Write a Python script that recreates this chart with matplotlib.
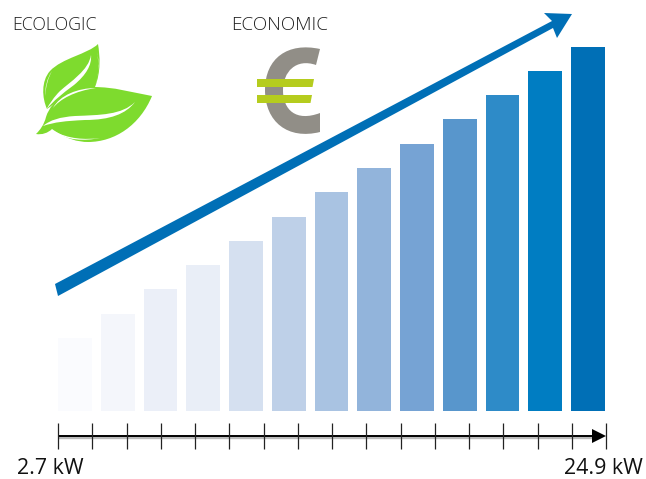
import numpy as np
import matplotlib
matplotlib.use('Agg')
import matplotlib.pyplot as plt
from matplotlib.path import Path
from matplotlib.patches import PathPatch, Polygon

# bar heights (pixels above the baseline)
heights = [73, 97, 122, 146, 170, 194, 219, 243, 267, 292, 316, 340, 364]
colors = ['#FAFBFE', '#F4F6FB', '#EBEFF8', '#E9EEF7', '#D5E0F0', '#BED0E8', '#A9C3E2',
          '#92B4DB', '#76A3D4', '#5896CC', '#2E8BC8', '#007DC2', '#006FB6']
top_labels = ['ECOLOGIC', 'ECONOMIC']
range_labels = ['2.7 kW', '24.9 kW']
n_ticks = 17

LEAF = '#7EDB2E'
BLUE = '#006FB6'
M, L, C = Path.MOVETO, Path.LINETO, Path.CURVE4

fig = plt.figure(figsize=(6.46, 4.79), dpi=100)

# bars
ax = fig.add_axes([0, 0, 1, 1])
ax.bar(range(len(heights)), heights, width=0.795, color=colors)
ax.set_xlim(-75 / 42.75, (646 - 75) / 42.75)
ax.set_ylim(-68, 411)
ax.axis('off')

# overlay in picture pixels for the icons and the arrows
ov = fig.add_axes([0, 0, 1, 1])
ov.set_xlim(0, 646)
ov.set_ylim(479, 0)
ov.axis('off')


def curve(points, color, z=3):
    # first point is a moveto, then groups of three bezier points
    codes = [M] + [C] * (len(points) - 1)
    ov.add_patch(PathPatch(Path(points, codes), fc=color, ec='none', zorder=z))


# upper leaf
curve([(98, 44), (88, 54), (62, 58), (50, 71), (41, 81), (42, 98), (47, 109),
       (62, 98), (80, 90), (95, 87), (101, 72), (100, 56), (98, 44)], LEAF)
# lower leaf
curve([(152, 96), (130, 92), (115, 87), (93, 87), (72, 88), (52, 98), (46, 117),
       (44, 125), (40, 130), (36, 134), (42, 135), (48, 133), (52, 129),
       (66, 139), (78, 142), (88, 142), (115, 142), (140, 125), (152, 96)], LEAF)
# white veins
curve([(91, 55), (89, 70), (70, 82), (60, 91), (54, 97), (50, 103), (46, 110),
       (54, 100), (62, 94), (74, 85), (86, 75), (92, 65), (91, 55)], 'white', 4)
curve([(135, 102), (122, 115), (100, 115), (75, 116), (60, 117), (50, 120), (43, 126),
       (55, 122), (65, 121), (85, 120), (110, 120), (126, 114), (135, 102)], 'white', 4)
curve([(96, 88), (78, 88), (60, 95), (53, 108), (60, 99), (75, 91), (96, 88)], 'white', 4)
curve([(54, 131), (68, 139), (85, 140), (100, 138), (85, 141), (66, 141), (54, 131)], 'white', 4)
curve([(52, 71), (47, 78), (45, 88), (45, 96), (46, 86), (48, 78), (52, 71)], 'white', 4)
curve([(97, 52), (100, 65), (98, 76), (95, 86), (99, 74), (99, 62), (97, 52)], 'white', 4)

# euro sign
curve([(320, 49), (288, 42), (265, 58), (265, 90), (265, 122), (288, 140), (320, 132),
       (320, 125), (320, 119), (320, 113), (296, 122), (283, 110), (283, 90),
       (283, 72), (296, 58), (316, 65), (317, 60), (319, 54), (320, 49)], '#918E87')
ov.add_patch(Polygon([(257, 79), (314, 79), (312.5, 87), (257, 87)], fc='#B5CC1E', ec='none', zorder=4))
ov.add_patch(Polygon([(257, 95), (312, 95), (310.5, 103), (257, 103)], fc='#B5CC1E', ec='none', zorder=4))

# big tapered arrow
ov.add_patch(Polygon([(55, 284), (552, 21), (544, 13), (572, 14), (557, 38), (553, 28), (58, 296)],
                     fc=BLUE, ec='none', zorder=5))

# power axis
xt = np.linspace(58, 606, n_ticks)
ov.plot([58, 596], [436.5, 436.5], color='#BBBBBB', lw=2.4, zorder=2, solid_capstyle='butt')
ov.plot([58, 596], [436, 436], color='black', lw=1.4, zorder=3, solid_capstyle='butt')
ov.vlines(xt, 423, 449, color='#222222', lw=0.9, zorder=3)
ov.add_patch(Polygon([(592, 429), (606, 436), (592, 443)], fc='black', ec='none', zorder=4))

# text
font = 'Open Sans'
ov.text(12, 30, top_labels[0], family=font, fontweight='light', fontsize=12.8, color='#1F1F1F', va='baseline')
ov.text(231, 30, top_labels[1], family=font, fontweight='light', fontsize=13.6, color='#1F1F1F', va='baseline')
ov.text(17, 474, range_labels[0], family=font, fontsize=15.4, color='#111111', va='baseline')
ov.text(564, 474, range_labels[1], family=font, fontsize=15.4, color='#111111', va='baseline')

fig.savefig('out.png', dpi=100)
